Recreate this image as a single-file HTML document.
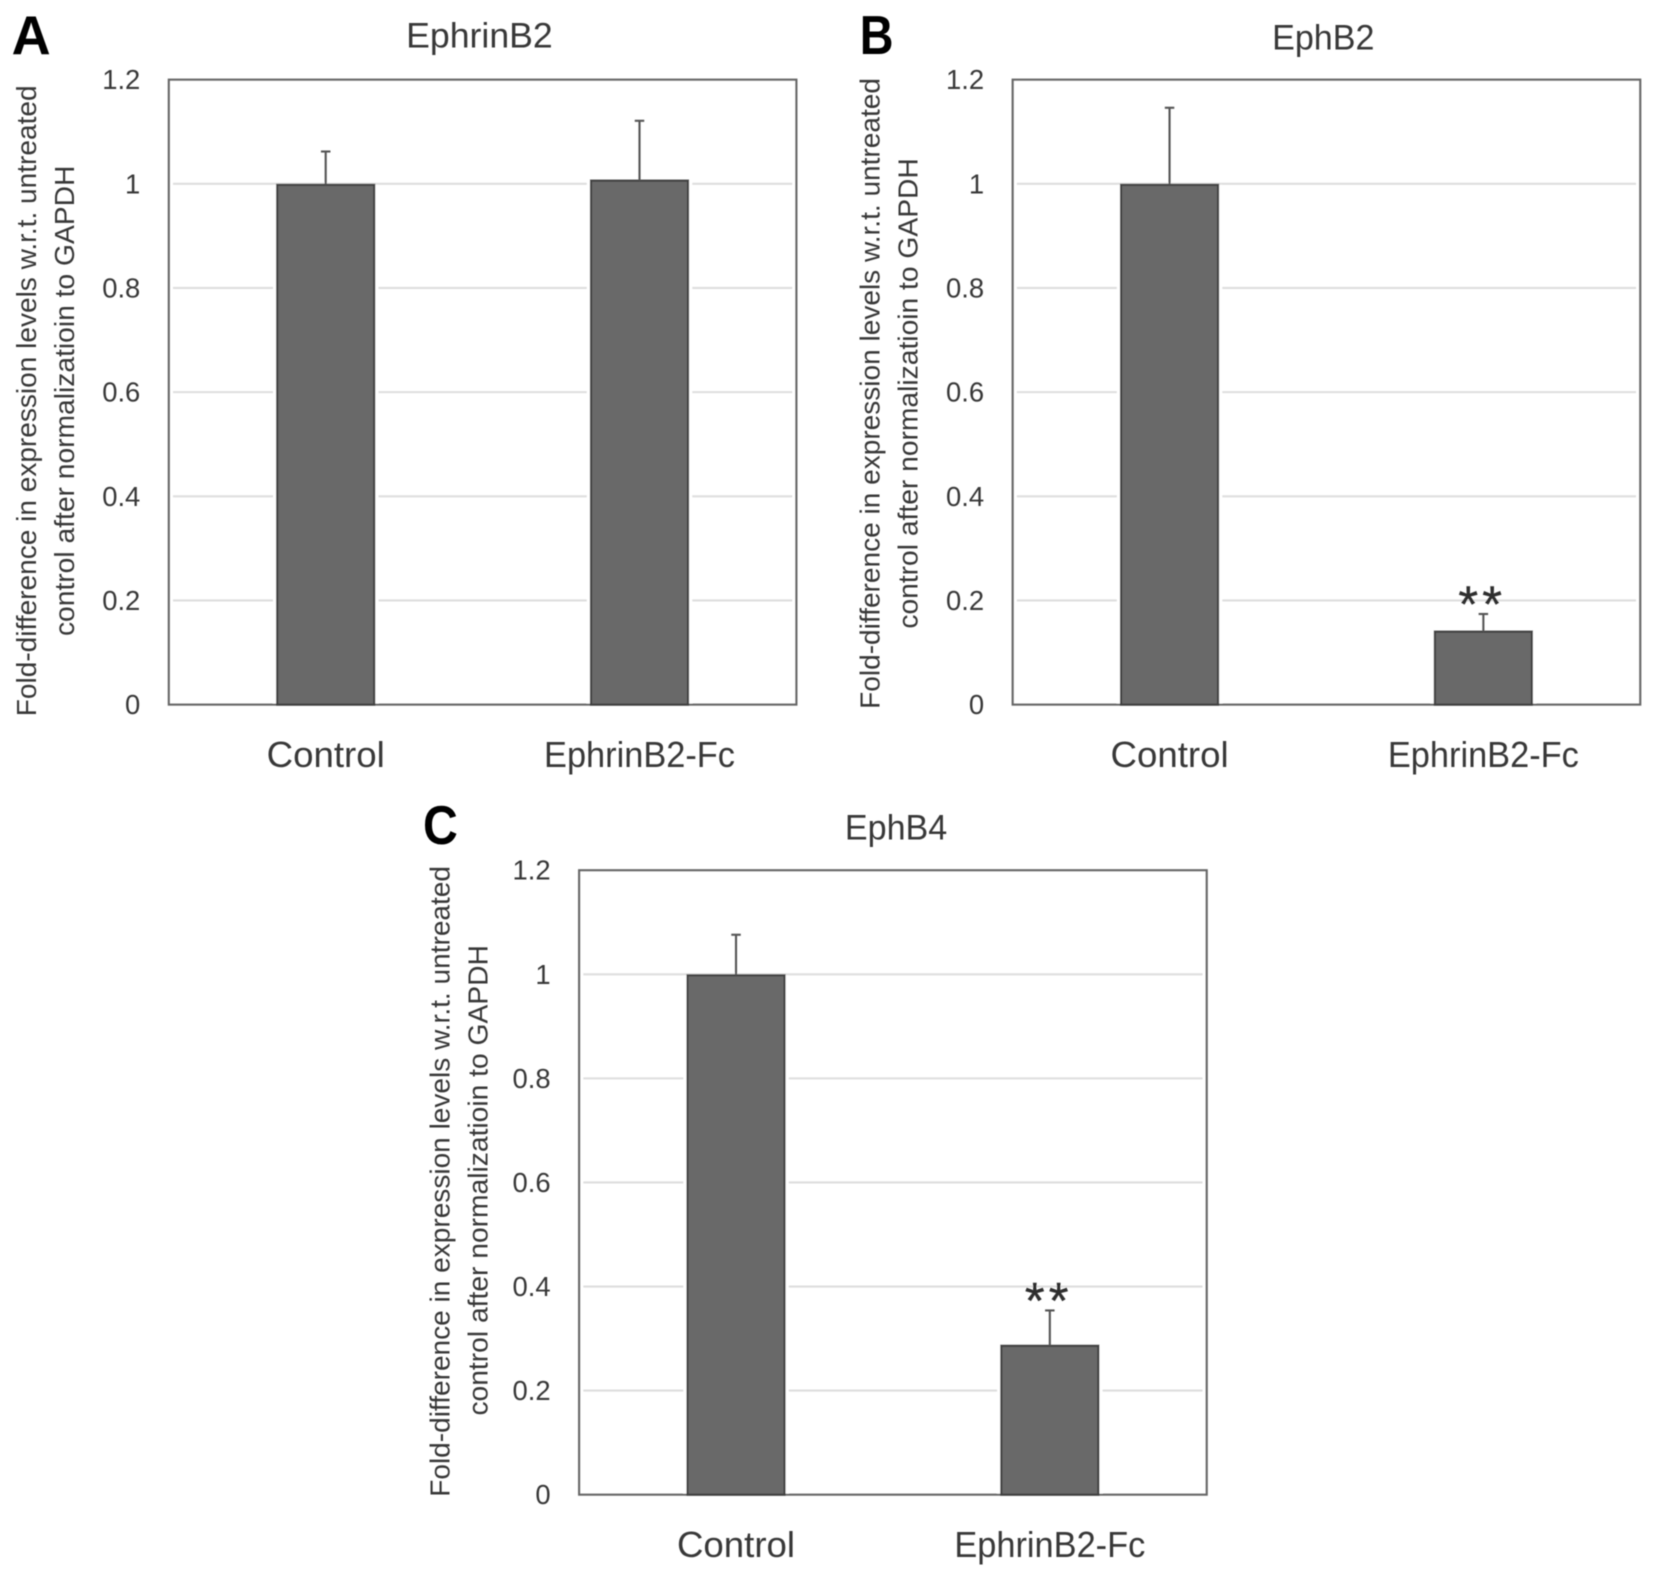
<!DOCTYPE html>
<html lang="en">
<head>
<meta charset="utf-8">
<title>Fold-difference in expression levels</title>
<style>
html,body{margin:0;padding:0;background:#fff;width:1654px;height:1578px;overflow:hidden}
svg{display:block}
text{font-family:"Liberation Sans",Arial,sans-serif}
</style>
</head>
<body>
<svg id="figure" xmlns="http://www.w3.org/2000/svg" width="1654" height="1578" viewBox="0 0 1568 1496">
  <defs><filter id="soft" x="-2%" y="-2%" width="104%" height="104%"><feGaussianBlur stdDeviation="0.55"/></filter></defs>
  <rect width="1568" height="1496" fill="#fff"/>
  <g id="root" filter="url(#soft)">
    <text x="11" y="51" font-size="52" font-weight="bold" fill="#000" textLength="37" lengthAdjust="spacingAndGlyphs">A</text>
    <text x="815" y="51" font-size="52" font-weight="bold" fill="#000" textLength="32" lengthAdjust="spacingAndGlyphs">B</text>
    <text x="401" y="800" font-size="52" font-weight="bold" fill="#000" textLength="33" lengthAdjust="spacingAndGlyphs">C</text>
    <text x="385" y="45" font-size="33" fill="#383838" textLength="139" lengthAdjust="spacingAndGlyphs">EphrinB2</text>
    <text x="1206" y="47" font-size="33" fill="#383838" textLength="97" lengthAdjust="spacingAndGlyphs">EphB2</text>
    <text x="801" y="796" font-size="33" fill="#383838" textLength="97" lengthAdjust="spacingAndGlyphs">EphB4</text>

    <text transform="translate(34,679) rotate(-90)" font-size="26" fill="#383838" textLength="598" lengthAdjust="spacingAndGlyphs">Fold-difference in expression levels w.r.t. untreated</text>
    <text transform="translate(70,603) rotate(-90)" font-size="26" fill="#383838" textLength="446" lengthAdjust="spacingAndGlyphs">control after normalizatioin to GAPDH</text>
    <text transform="translate(834,672) rotate(-90)" font-size="26" fill="#383838" textLength="598" lengthAdjust="spacingAndGlyphs">Fold-difference in expression levels w.r.t. untreated</text>
    <text transform="translate(870,596) rotate(-90)" font-size="26" fill="#383838" textLength="446" lengthAdjust="spacingAndGlyphs">control after normalizatioin to GAPDH</text>
    <text transform="translate(426,1419) rotate(-90)" font-size="26" fill="#383838" textLength="598" lengthAdjust="spacingAndGlyphs">Fold-difference in expression levels w.r.t. untreated</text>
    <text transform="translate(462,1342) rotate(-90)" font-size="26" fill="#383838" textLength="446" lengthAdjust="spacingAndGlyphs">control after normalizatioin to GAPDH</text>
  </g>
</svg>
<script>
// Chart data
const categories = ["Control", "EphrinB2-Fc"];
const tickValues = [0, 0.2, 0.4, 0.6, 0.8, 1, 1.2];
const tickLabels = ["0", "0.2", "0.4", "0.6", "0.8", "1", "1.2"];
const ephrinB2Values = [0.998, 1.006];
const ephrinB2Errors = [0.064, 0.115];
const ephB2Values = [0.998, 0.140];
const ephB2Errors = [0.148, 0.034];
const ephB4Values = [0.998, 0.286];
const ephB4Errors = [0.078, 0.068];
const significanceA = ["", ""];
const significanceB = ["", "**"];
const significanceC = ["", "**"];

const SVGNS = "http://www.w3.org/2000/svg";
const root = document.getElementById("root");

function make(tag, attrs) {
  const node = document.createElementNS(SVGNS, tag);
  for (const key in attrs) node.setAttribute(key, attrs[key]);
  root.appendChild(node);
  return node;
}

function drawPanel(id, left, top, bottom, values, errors, marks) {
  const width = 595;
  const barWidth = 92;
  const yMax = 1.2;
  const yScale = v => bottom - (v / yMax) * (bottom - top);
  const xScale = i => left + width * (0.25 + 0.5 * i);

  tickValues.forEach((tick, i) => {
    if (tick > 0 && tick < yMax) {
      const grid = make("line", {x1: left + 4, x2: left + width - 4, y1: yScale(tick), y2: yScale(tick), stroke: "#dedede", "stroke-width": 2});
      
      
    }
    const label = make("text", {x: left - 27, y: yScale(tick) + 9, "text-anchor": "end", "font-size": 26, fill: "#383838"});
    label.textContent = tickLabels[i];
    
    
  });

  const frame = make("rect", {x: left, y: top, width: width, height: bottom - top, fill: "none", stroke: "#666666", "stroke-width": 2});
  
  

  categories.forEach((category, i) => {
    const cx = xScale(i);
    const barTop = yScale(values[i]);
    const errTop = yScale(values[i] + errors[i]);

    const halo = make("rect", {x: cx - barWidth / 2 - 4, y: barTop, width: barWidth + 8, height: bottom - barTop - 1, fill: "#fff"});
    
    

    const bar = make("rect", {x: cx - barWidth / 2, y: barTop, width: barWidth, height: bottom - barTop, fill: "#696969", stroke: "#3f3f3f", "stroke-width": 2});
    
    

    const stem = make("line", {x1: cx, x2: cx, y1: barTop, y2: errTop, stroke: "#555555", "stroke-width": 2});
    
    

    const cap = make("line", {x1: cx - 4.5, x2: cx + 4.5, y1: errTop, y2: errTop, stroke: "#555555", "stroke-width": 2});
    
    

    if (marks[i]) {
      const star = make("text", {x: cx - 1, y: errTop + 7, "text-anchor": "middle", "font-size": 48, fill: "#2e2e2e", stroke: "#2e2e2e", "stroke-width": 0.4, "letter-spacing": 4});
      star.textContent = marks[i];
      
      
    }

    const catLabel = make("text", {x: cx, y: bottom + 59, "text-anchor": "middle", "font-size": 34, fill: "#383838", textLength: i === 0 ? 112 : 181, lengthAdjust: "spacingAndGlyphs"});
    catLabel.textContent = category;
    
    
  });
}

drawPanel("a", 160, 75.5, 668, ephrinB2Values, ephrinB2Errors, significanceA);
drawPanel("b", 960, 75.5, 668, ephB2Values, ephB2Errors, significanceB);
drawPanel("c", 549, 825, 1417, ephB4Values, ephB4Errors, significanceC);
</script>
</body>
</html>
